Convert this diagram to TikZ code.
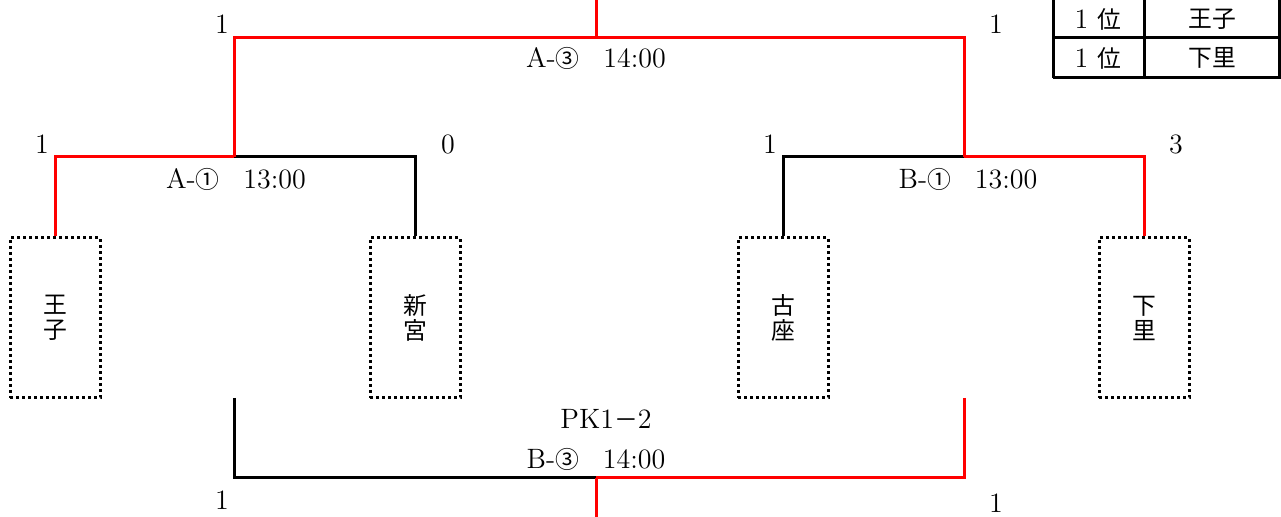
\documentclass[tikz,border=0pt]{standalone}
\usepackage{fontspec}
\newfontfamily\jp{Noto Sans CJK JP}[Scale=0.85]
\usetikzlibrary{calc}

\begin{document}
\begin{tikzpicture}[x=0.5pt,y=-0.5pt,
    font=\fontsize{14}{16}\selectfont,
    win/.style={red,line width=1.5pt},
    lose/.style={black,line width=1.5pt},
    team/.style={draw,line width=1.5pt,dash pattern=on 1.6pt off 1.4pt,
      minimum width=45pt,minimum height=80pt,align=center,inner sep=0pt,
      font=\jp\fontsize{14}{12.5}\selectfont},
    score/.style={inner sep=0pt},
    game/.style={inner sep=0pt}]
  \useasboundingbox (0,0) rectangle (1281,517);

  % teams
  \node[team] (ouji) at (55,318) {王\\子};
  \node[team] (shingu) at (415,318) {新\\宮};
  \node[team] (koza) at (783,318) {古\\座};
  \node[team] (shimo) at (1144,318) {下\\里};

  % junctions
  \coordinate (a1) at (234,157);
  \coordinate (b1) at (964,157);
  \coordinate (a3) at (596,38);
  \coordinate (top) at (596,0);
  \coordinate (b3l) at (234,398);
  \coordinate (b3r) at (964,398);
  \coordinate (b3) at (596,478);
  \coordinate (bot) at (596,517);

  % first round
  \draw[win] (ouji.north) |- (a1);
  \draw[lose] (shingu.north) |- (a1);
  \draw[lose] (koza.north) |- (b1);
  \draw[win] (shimo.north) |- (b1);

  % A-3
  \draw[win] (a1) |- (a3);
  \draw[win] (b1) |- (a3);
  \draw[win] (a3) -- (top);

  % B-3
  \draw[lose] (b3l) |- (b3);
  \draw[win] (b3r) |- (b3);
  \draw[win] (b3) -- (bot);

  % scores
  \node[score] (sa3l) at (222,24) {1};
  \node[score] (sa3r) at (996,24) {1};
  \node[score] (sa1l) at (42,144) {1};
  \node[score] (sa1r) at (448,144) {0};
  \node[score] (sb1l) at (770,144) {1};
  \node[score] (sb1r) at (1176,144) {3};
  \node[score] (sb3l) at (222,500) {1};
  \node[score] (sb3r) at (996,503) {1};

  % games
  \node[game] (ga3) at (596,58) {A-{\jp ③　}14:00};
  \node[game] (ga1) at (236,179) {A-{\jp ①　}13:00};
  \node[game] (gb1) at (968,179) {B-{\jp ①　}13:00};
  \node[game] (pk) at (606,419) {PK1{\jp －}2};
  \node[game] (gb3) at (596,459) {B-{\jp ③　}14:00};

  % ranking table
  \draw[line width=1.5pt] (1053,0) -- (1053,78) (1144,0) -- (1144,78)
    (1279,0) -- (1279,78) (1053,38) -- (1281,38) (1053,78) -- (1281,78);
  \node[game] (r1) at (1098,19) {1\,\,{\jp 位}};
  \node[game] (t1) at (1212,19) {\jp 王子};
  \node[game] (r2) at (1098,58) {1\,\,{\jp 位}};
  \node[game] (t2) at (1212,58) {\jp 下里};
\end{tikzpicture}
\end{document}
